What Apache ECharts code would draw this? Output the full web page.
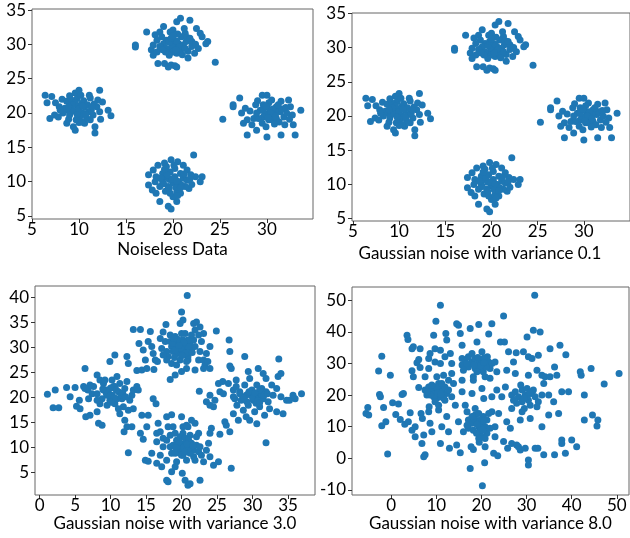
<!DOCTYPE html>
<html>
<head>
<meta charset="utf-8">
<script src="https://cdn.jsdelivr.net/npm/echarts@6/dist/echarts.min.js"></script>
<style>
  html, body { margin: 0; padding: 0; background: #fff; }
  #container { width: 630px; height: 538px; }
</style>
</head>
<body>
<div id="container"></div>
<script>
// points, [x, y]
var noiselessPts = [
  // cluster around (10, 20)
  [6.4,22.6],[6.6,21.5],[7.1,22.4],[6.9,19.2],[7.4,19.7],[8.2,22.0],[8.7,21.7],[7.9,20.9],[8.8,20.4],[9.6,22.9],
  [10.0,23.3],[9.8,22.1],[9.2,21.9],[10.3,21.4],[11.1,22.6],[12.2,23.3],[12.0,21.9],[11.9,20.9],[13.1,20.4],[13.4,19.6],
  [12.2,20.2],[11.5,19.7],[11.2,19.0],[11.7,18.0],[11.7,17.1],[10.6,18.5],[9.6,17.5],[9.4,18.0],[8.7,18.5],[8.3,20.0],
  [9.0,19.7],[9.7,20.2],[10.4,20.0],[11.0,20.2],[10.1,19.5],[9.7,19.0],[10.6,20.9],[9.2,20.9],[8.5,20.7],[8.0,20.4],
  [10.8,19.3],[11.3,20.4],[10.3,18.7],[9.9,21.0],[10.5,21.8],[9.4,20.3],[11.6,21.3],[8.9,19.1],[10.2,22.6],[9.6,21.5],
  [12.3,19.1],[7.8,19.4],[10.9,21.2],[9.3,21.2],[10.0,20.6],[10.7,19.8],[9.8,19.8],[10.4,21.0],[11.4,20.9],[8.9,20.9],
  [10.0,18.6],[11.2,22.2],[9.0,22.5],[12.5,21.6],[7.5,21.5],
  // cluster around (20, 30)
  [16.0,29.9],[16.0,29.6],[17.2,31.8],[17.7,29.2],[17.9,28.4],[18.3,28.9],[18.4,27.2],[18.1,31.4],[18.6,31.8],[19.0,32.6],
  [19.1,27.2],[19.5,26.7],[19.8,27.0],[20.2,26.9],[20.4,26.7],[19.3,30.6],[19.7,31.8],[20.0,32.1],[20.4,33.3],[20.8,33.8],
  [21.8,33.5],[21.3,31.6],[20.9,31.1],[20.2,29.7],[19.7,29.2],[20.4,28.7],[20.9,29.4],[21.4,30.4],[22.0,30.4],[21.6,29.0],
  [21.6,28.0],[22.3,28.7],[22.5,32.3],[22.9,31.6],[23.1,31.1],[22.7,29.4],[23.7,30.4],[23.5,30.1],[24.5,27.4],[19.0,30.1],
  [18.8,31.1],[18.3,30.6],[19.9,29.9],[20.6,30.1],[20.8,29.2],[21.1,29.9],[19.3,29.4],[20.0,28.9],[18.6,29.7],[17.9,29.9],
  [22.0,29.7],[20.5,31.5],[21.0,28.5],[19.6,28.4],[20.1,30.6],[21.5,31.0],[19.6,30.3],[20.4,30.5],[20.7,29.7],[21.3,29.4],
  [19.8,30.9],[20.3,29.2],[21.8,30.9],[19.2,28.9],[22.4,30.0],[21.2,32.3],[18.9,29.2],[20.0,31.2],
  // cluster around (20, 10)
  [22.2,13.9],[17.4,11.0],[17.4,9.5],[17.8,8.8],[17.9,11.7],[18.4,12.4],[18.6,7.1],[19.1,12.7],[19.3,12.2],[19.8,13.2],
  [19.5,6.4],[19.8,6.0],[20.4,7.1],[20.8,8.3],[21.1,12.4],[21.5,11.7],[21.7,9.0],[22.4,10.7],[23.1,10.7],[22.9,10.0],
  [18.2,10.7],[18.9,10.0],[18.6,9.3],[19.3,10.7],[19.7,11.4],[20.2,10.7],[20.0,9.8],[20.6,10.0],[20.8,11.2],[21.1,10.5],
  [19.5,9.3],[19.2,8.6],[20.0,7.8],[19.7,8.3],[20.4,8.5],[21.3,9.3],[20.9,9.5],[21.5,10.2],[18.2,8.3],[20.2,11.9],
  [18.9,11.2],[18.1,10.0],[20.5,12.9],[19.6,10.3],[20.3,9.2],[21.9,11.0],[19.0,9.7],[19.9,10.4],[20.4,10.1],[19.4,11.0],
  [20.8,9.1],[19.6,9.0],[21.2,11.1],[20.1,12.4],[18.7,10.5],[21.8,10.4],[20.5,8.0],[19.1,11.8],[22.0,9.6],
  // cluster around (30, 20)
  [25.3,19.1],[26.4,21.2],[26.4,20.9],[27.1,22.2],[27.3,20.0],[27.7,20.7],[27.9,16.8],[27.9,19.0],[27.5,18.5],[28.4,18.3],
  [28.9,17.5],[29.5,22.6],[30.0,22.6],[30.0,16.5],[28.8,21.2],[29.3,20.4],[29.6,19.4],[30.0,20.9],[30.3,20.2],[30.2,19.0],
  [30.5,21.9],[30.7,19.7],[31.0,20.9],[31.4,20.2],[31.5,21.7],[31.8,19.4],[31.5,16.8],[31.9,18.3],[32.3,21.9],[32.5,20.9],
  [32.7,19.7],[32.8,18.3],[33.0,16.8],[33.6,20.4],[28.6,19.2],[29.1,19.2],[29.6,21.2],[30.5,19.0],[31.0,19.2],[32.1,20.0],
  [29.8,19.9],[30.9,20.2],[29.5,18.5],[30.2,21.5],[29.9,18.0],[31.3,18.7],[28.2,20.3],[30.6,20.6],[30.4,20.0],[29.6,20.4],
  [30.9,19.6],[29.9,21.0],[31.6,20.6],[30.1,19.3],[28.9,20.0],[31.2,21.2],[32.0,20.8],[29.0,21.8],[30.8,18.4],[32.4,19.1]
];

// variance 0.1: indistinguishable from the noiseless points at this scale
var var01Pts = noiselessPts;

var var3Pts = [
  // around (10, 20)
  [1.1,20.7],[2.2,21.5],[1.9,18.0],[2.7,18.0],[3.8,22.0],[4.3,20.2],[5.0,22.0],[5.2,18.3],[5.7,17.8],[5.6,19.5],
  [6.4,25.8],[6.5,16.2],[6.2,22.2],[6.8,21.5],[7.1,16.5],[7.4,20.8],[6.9,19.8],[7.6,22.2],[8.1,24.5],[8.1,17.2],
  [8.3,14.9],[8.8,14.5],[8.5,23.5],[9.0,22.8],[9.0,21.5],[9.5,20.5],[8.8,19.8],[9.9,27.2],[10.6,28.5],[10.2,23.5],
  [10.9,24.2],[10.4,22.2],[9.9,19.5],[10.6,18.8],[11.1,21.2],[11.3,22.8],[11.6,19.8],[12.0,21.8],[11.3,16.8],[11.8,18.2],
  [12.5,17.5],[12.3,28.2],[12.5,26.8],[12.3,23.2],[13.0,20.5],[12.7,19.5],[13.2,21.5],[12.0,15.5],[12.3,14.2],[11.9,13.2],
  [13.2,17.8],[13.7,22.2],[13.9,21.5],[13.0,14.2],[12.5,9.0],[8.5,18.8],[8.1,20.8],[9.5,18.5],[10.2,20.5],[10.9,19.8],
  [9.7,21.5],[10.6,22.2],[9.2,23.5],[11.1,17.8],[8.1,19.5],[7.1,22.5],[6.4,21.8],[9.4,20.9],[10.0,21.9],[11.5,20.6],
  [9.9,20.4],[10.5,20.0],[9.3,21.5],[10.8,21.5],[11.7,21.0],[8.9,21.7],[10.1,19.1],[12.1,20.2],
  // around (20, 30)
  [13.2,33.6],[14.2,33.6],[14.0,30.8],[14.6,29.5],[14.9,27.5],[13.7,25.4],[14.4,25.5],[15.1,25.8],[15.3,31.2],[15.6,33.2],
  [15.8,30.2],[16.0,28.8],[16.3,27.5],[16.1,25.6],[16.6,27.2],[17.0,31.8],[17.4,33.1],[17.8,34.6],[17.2,29.8],[17.7,31.2],
  [18.4,32.5],[17.9,29.2],[18.6,30.2],[18.1,28.2],[18.6,26.8],[18.4,23.6],[19.1,24.5],[19.1,32.2],[19.3,30.8],[18.8,29.2],
  [19.5,28.8],[19.8,27.5],[20.0,29.5],[20.2,31.5],[20.0,32.8],[19.8,34.8],[20.0,37.1],[20.2,35.5],[20.8,40.4],[20.5,32.8],
  [20.7,30.5],[20.9,28.2],[20.0,25.2],[20.7,25.8],[20.9,27.5],[21.4,29.5],[21.7,31.5],[21.9,33.5],[21.7,34.8],[22.1,35.1],
  [22.6,34.1],[22.4,32.5],[22.8,31.2],[23.1,32.8],[22.6,29.2],[22.4,27.5],[23.1,27.5],[23.5,28.8],[23.3,26.5],[23.7,27.2],
  [24.0,25.8],[24.0,30.2],[23.1,25.8],[21.9,25.5],[24.9,33.3],[21.2,30.5],[19.3,29.8],[18.4,31.2],[20.5,29.2],[20.7,27.2],
  [19.3,26.5],[17.9,27.5],[17.4,28.5],[21.4,32.5],[19.8,30.8],[18.8,30.8],[20.9,31.5],[21.9,30.2],[19.5,31.6],[20.3,30.1],
  [19.9,29.9],[20.6,29.0],[19.1,29.5],[21.0,30.2],[20.3,31.0],[18.9,31.8],[19.6,30.4],[21.5,29.0],[20.1,28.4],[19.0,28.0],
  // around (30, 20)
  [22.5,21.3],[23.5,19.2],[24.0,20.5],[24.0,18.5],[24.5,18.2],[24.7,19.5],[25.2,22.8],[25.4,21.2],[25.4,12.7],[25.8,23.2],
  [25.9,20.8],[26.1,15.2],[26.3,14.5],[26.6,22.8],[26.7,31.5],[26.8,29.2],[26.8,26.3],[27.0,25.8],[26.8,13.2],[27.0,5.9],
  [27.3,21.5],[27.5,19.8],[27.3,16.8],[27.7,23.5],[27.8,18.5],[28.0,15.5],[28.2,21.2],[28.4,19.5],[28.7,17.5],[28.9,22.5],
  [29.1,20.5],[29.1,16.2],[29.4,18.5],[29.4,25.2],[29.6,23.8],[29.9,21.5],[30.1,19.5],[30.3,17.2],[30.6,22.5],[30.8,20.5],
  [31.0,18.2],[31.3,21.8],[31.5,19.8],[31.7,16.5],[30.8,25.8],[31.5,24.8],[31.9,23.8],[31.9,21.2],[32.2,19.2],[32.4,17.8],
  [32.7,22.5],[32.9,20.5],[31.9,11.0],[30.6,14.8],[29.6,15.5],[33.6,24.2],[33.4,21.8],[33.7,27.7],[34.0,24.8],[34.3,16.8],
  [34.0,20.2],[34.8,19.5],[35.2,19.5],[35.7,20.5],[36.0,19.8],[36.9,20.8],[28.9,28.2],[33.4,17.2],[28.2,20.8],[29.4,20.8],
  [30.3,20.2],[29.9,20.5],[31.3,20.8],[27.3,20.2],[27.7,22.2],[30.5,18.9],[29.2,19.2],[31.0,21.5],[30.0,20.0],[30.7,19.4],
  [29.5,21.2],[31.6,20.5],[30.3,21.0],[28.8,19.9],[31.0,19.0],[32.1,20.8],
  // around (20, 10)
  [14.2,12.9],[14.6,11.7],[15.1,14.2],[14.9,7.5],[15.3,7.3],[15.8,8.9],[14.4,16.5],[15.3,16.5],[16.0,19.8],[16.4,18.8],
  [16.5,11.2],[16.5,12.9],[16.7,14.9],[17.0,13.2],[17.4,11.9],[17.4,10.2],[17.0,8.5],[16.5,6.9],[17.2,6.2],[17.9,16.2],
  [18.6,16.6],[18.1,14.2],[18.4,12.5],[17.9,11.5],[18.4,10.2],[18.6,8.9],[17.9,7.5],[17.9,3.5],[18.1,3.2],[18.6,5.2],
  [18.8,14.2],[19.1,12.9],[19.3,11.5],[19.5,10.2],[19.8,8.9],[19.3,7.2],[19.1,6.2],[20.0,16.2],[20.2,14.2],[20.2,12.9],
  [20.5,10.9],[20.7,9.5],[20.7,7.5],[20.1,4.9],[20.5,3.5],[20.9,2.5],[21.2,2.8],[20.9,14.2],[21.2,12.5],[21.4,10.9],
  [21.7,9.5],[21.7,8.2],[21.9,14.9],[22.1,12.2],[22.1,10.5],[22.4,9.2],[21.9,7.5],[22.6,3.5],[20.7,14.5],[22.6,10.2],
  [22.8,8.5],[23.1,7.2],[22.4,12.9],[21.4,15.5],[23.8,10.9],[24.0,8.2],[23.5,9.5],[24.2,13.9],[24.5,6.5],[25.2,7.2],
  [24.0,12.9],[19.8,10.9],[20.0,9.5],[19.3,9.9],[18.8,10.5],[20.9,10.2],[21.2,8.9],[20.2,8.5],[19.1,8.9],[19.8,12.2],
  [20.5,11.9],[19.6,10.1],[20.4,10.4],[21.0,11.5],[20.3,10.1],[19.6,11.2],[21.0,9.8],[20.0,8.5],[20.8,10.7],[19.2,10.0],
  [21.6,10.4],[20.4,9.1]
];

var var8Pts = [
  // scattered points
  [-5.6,14.2],[-5.2,16.1],[-5.0,13.7],[-2.8,27.6],[-2.4,19.5],[-2.6,20.2],[-2.1,32.3],[-1.7,16.1],[-2.1,10.3],[-1.2,11.6],
  [-0.8,1.4],[-0.2,26.3],[0.3,17.6],[1.0,13.9],[1.6,17.2],[2.0,12.3],[2.4,20.2],[2.7,20.5],[3.0,10.8],[3.5,38.9],
  [3.7,37.6],[3.8,11.6],[4.2,14.4],[4.6,34.7],[4.6,27.7],[4.9,35.3],[4.6,8.9],[4.9,25.8],[5.3,6.8],[5.3,10.0],
  [5.7,30.2],[6.1,31.3],[6.1,22.4],[6.4,34.7],[6.4,28.7],[6.6,14.2],[6.8,4.7],[6.9,12.6],[7.2,7.4],[7.2,0.5],
  [7.5,1.1],[7.5,25.8],[7.5,21.6],[7.9,20.0],[8.3,31.6],[8.3,28.4],[8.3,14.7],[8.4,16.3],[8.6,33.2],[8.6,11.1],
  [9.0,8.4],[9.4,38.9],[9.4,22.1],[9.4,20.5],[9.7,30.5],[9.7,34.7],[9.9,43.4],[10.1,25.8],[10.1,19.0],[10.5,23.7],
  [10.5,15.3],[10.9,48.4],[10.9,34.2],[10.9,30.0],[10.9,4.7],[11.2,10.0],[11.2,22.6],[11.6,26.3],[11.6,20.5],[11.9,32.1],
  [11.9,18.4],[12.1,39.5],[12.3,37.4],[12.3,13.2],[12.7,24.7],[12.7,8.4],[12.9,3.2],[13.1,33.2],[13.4,30.0],[13.4,26.8],
  [13.4,19.5],[13.8,23.7],[14.2,16.8],[14.5,42.6],[14.9,42.1],[14.9,11.6],[14.5,4.2],[15.3,1.8],[15.3,39.5],[15.7,35.8],
  [15.7,29.5],[15.7,24.7],[15.7,21.1],[16.0,8.4],[16.4,16.8],[16.8,14.7],[17.1,9.5],[17.5,41.1],[17.5,-3.2],[17.7,3.7],
  [17.9,20.5],[18.2,24.7],[18.2,2.8],[18.6,13.7],[19.0,36.8],[19.4,42.3],[19.5,5.1],[20.1,22.1],[20.2,-8.7],[20.5,18.9],
  [20.7,-1.4],[20.8,3.7],[21.2,7.9],[21.6,39.3],[21.9,25.3],[22.3,42.6],[22.3,19.5],[22.3,14.7],[22.7,1.6],[23.0,10.0],
  [23.0,6.8],[23.4,21.6],[23.4,27.4],[23.6,0.8],[23.8,14.2],[24.2,36.8],[24.5,19.5],[24.9,45.0],[25.1,36.8],[25.3,22.6],
  [25.6,27.9],[24.9,5.3],[25.6,11.6],[25.8,3.2],[26.0,33.7],[26.4,9.5],[26.7,15.8],[26.7,4.7],[27.1,30.5],[27.5,26.8],
  [27.7,33.4],[27.8,4.2],[28.2,3.7],[28.6,2.6],[28.6,12.1],[29.0,14.7],[29.3,33.7],[29.7,3.2],[30.1,38.4],[30.4,-0.5],
  [30.4,-2.1],[30.4,26.3],[30.4,32.1],[30.8,12.6],[31.2,31.6],[31.5,40.5],[31.8,51.6],[31.9,3.2],[32.3,27.9],[32.5,3.2],
  [32.6,32.6],[33.0,40.0],[33.4,26.3],[33.4,10.0],[33.8,23.7],[33.8,1.1],[34.1,25.8],[34.9,20.0],[34.9,13.7],[35.2,34.7],
  [35.2,25.8],[36.0,17.9],[36.2,28.9],[36.2,1.1],[36.7,26.3],[37.1,14.2],[37.4,35.8],[37.8,21.1],[37.8,5.8],[37.8,4.7],
  [38.6,1.6],[38.7,32.8],[39.3,21.1],[40.0,5.8],[41.9,27.4],[42.1,26.3],[42.8,20.0],[42.8,12.1],[44.3,28.4],[44.6,13.7],
  [45.8,12.1],[45.6,10.2],[47.2,23.5],[50.5,26.8],[41.1,3.7],
  // denser cores
  [8.3,22.6],[9.0,21.6],[9.7,20.5],[10.5,21.6],[11.2,21.1],[11.9,22.6],[12.3,20.5],[10.9,19.5],[9.4,19.5],[8.6,20.0],
  [10.1,22.6],[11.6,19.0],[9.7,17.9],[10.5,16.8],[9.0,23.2],[12.7,21.6],[7.9,21.1],[11.2,23.7],[10.3,20.6],[11.0,20.3],
  [15.7,31.6],[16.4,31.1],[17.1,32.1],[17.9,30.5],[18.6,31.6],[19.4,30.0],[20.1,31.1],[20.8,29.5],[21.6,30.5],[19.7,28.4],
  [20.4,27.4],[18.6,28.4],[17.1,28.9],[22.3,30.0],[21.3,32.1],[17.9,33.2],[16.7,30.0],[21.9,28.4],[23.0,30.5],[19.0,27.4],
  [20.1,33.7],[16.0,27.9],[20.8,25.8],[18.2,25.8],[19.2,31.9],[20.6,31.8],[18.3,29.6],[21.0,28.9],[19.8,29.3],[20.5,30.3],
  [26.7,20.0],[27.5,21.1],[28.2,19.5],[29.0,21.6],[29.7,20.0],[30.4,18.4],[31.2,20.5],[29.0,17.9],[27.8,17.4],[30.1,22.1],
  [31.9,19.5],[32.6,17.9],[30.8,16.8],[31.5,21.6],[33.4,20.0],[28.7,23.2],[27.1,18.4],[29.5,15.8],[32.3,16.3],[30.2,19.8],
  [29.4,19.0],[30.8,20.9],
  [17.1,12.1],[17.9,11.1],[18.6,12.1],[19.4,10.0],[20.1,11.1],[20.8,10.0],[19.7,8.4],[18.9,7.9],[18.2,8.9],[20.4,13.2],
  [19.4,14.2],[18.6,15.8],[21.2,12.1],[17.9,13.2],[20.1,6.8],[20.8,6.3],[19.4,6.3],[21.9,9.5],[19.7,12.1],[16.8,10.5],
  [21.6,14.2],[19.9,9.6],[20.5,11.9],[19.0,10.8],[20.3,8.9]
];

// tick values
var ticksX12 = [5, 10, 15, 20, 25, 30];
var ticksY12 = [5, 10, 15, 20, 25, 30, 35];
var ticksX3 = [0, 5, 10, 15, 20, 25, 30, 35];
var ticksY3 = [5, 10, 15, 20, 25, 30, 35, 40];
var ticksX4 = [0, 10, 20, 30, 40, 50];
var ticksY4 = [-10, 0, 10, 20, 30, 40, 50];

var titles = ['Noiseless Data', 'Gaussian noise with variance 0.1',
  'Gaussian noise with variance 3.0', 'Gaussian noise with variance 8.0'];

var dom = document.getElementById('container');
var myChart = echarts.init(dom, null, { renderer: 'canvas' });

var FONT = 'Lato';
var SPINE = '#666666';
var TXT = '#000';

function makeX(idx, min, max, ticks, name, gap, pad) {
  return {
    type: 'value', gridIndex: idx, min: min, max: max,
    name: name, nameLocation: 'middle', nameGap: gap,
    nameTextStyle: { fontFamily: FONT, fontSize: 17, color: TXT, padding: pad || 0 },
    axisLine: { show: false, onZero: false },
    axisTick: { show: true, length: 4, lineStyle: { color: '#333' }, customValues: ticks },
    axisLabel: { fontFamily: FONT, fontSize: 17, color: TXT, margin: 2, customValues: ticks },
    splitLine: { show: false }
  };
}
function makeY(idx, min, max, ticks) {
  return {
    type: 'value', gridIndex: idx, min: min, max: max,
    axisLine: { show: false, onZero: false },
    axisTick: { show: true, length: 4, lineStyle: { color: '#333' }, customValues: ticks },
    axisLabel: { fontFamily: FONT, fontSize: 17, color: TXT, margin: 6, customValues: ticks },
    splitLine: { show: false }
  };
}
function makeSeries(idx, pts) {
  return {
    type: 'scatter', xAxisIndex: idx, yAxisIndex: idx, data: pts,
    symbolSize: 7, itemStyle: { color: '#1f77b4', opacity: 1 }
  };
}
var gridBase = { show: true, borderColor: SPINE, borderWidth: 1, backgroundColor: '#fff' };

var option = {
  animation: false,
  backgroundColor: '#fff',
  grid: [
    Object.assign({ left: 32, top: 9, width: 281, height: 210 }, gridBase),
    Object.assign({ left: 352, top: 13, width: 282, height: 208 }, gridBase),
    Object.assign({ left: 35, top: 286, width: 280, height: 209 }, gridBase),
    Object.assign({ left: 352, top: 287, width: 277, height: 208 }, gridBase)
  ],
  xAxis: [
    makeX(0, 5, 34.9, ticksX12, titles[0], 22),
    makeX(1, 4.9, 35.0, ticksX12, titles[1], 24, [0, 22, 0, 0]),
    makeX(2, -0.65, 38.8, ticksX3, titles[2], 20),
    makeX(3, -8.7, 52.7, ticksX4, titles[3], 20)
  ],
  yAxis: [
    makeY(0, 4.56, 35.15, ticksY12),
    makeY(1, 4.65, 35.05, ticksY12),
    makeY(2, 0.55, 42.3, ticksY3),
    makeY(3, -11.6, 54.2, ticksY4)
  ],
  series: [
    makeSeries(0, noiselessPts),
    makeSeries(1, var01Pts),
    makeSeries(2, var3Pts),
    makeSeries(3, var8Pts)
  ]
};

myChart.setOption(option);
window.addEventListener('resize', myChart.resize);
</script>
</body>
</html>
